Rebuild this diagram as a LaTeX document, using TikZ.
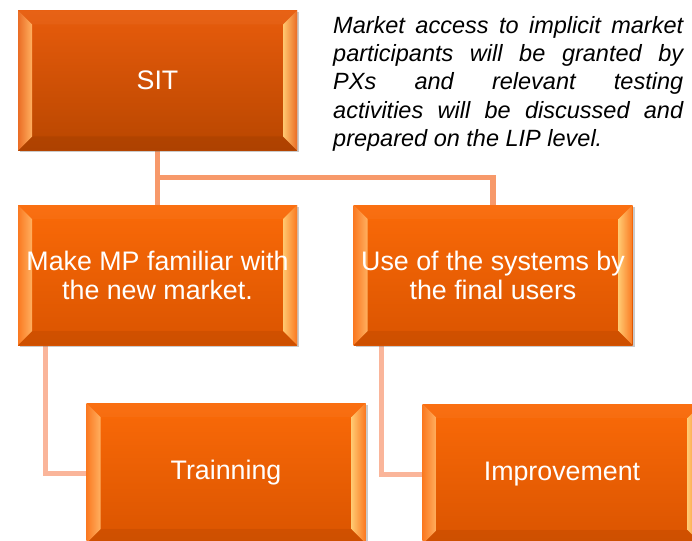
\documentclass[tikz,border=0pt]{standalone}
\usepackage{fontspec}
\setmainfont{Liberation Sans}
\usetikzlibrary{shadows,backgrounds}
\definecolor{sittop}{HTML}{E85C0C}
\definecolor{sitbot}{HTML}{B84600}
\definecolor{boxtop}{HTML}{FA6A08}
\definecolor{boxbot}{HTML}{DA5400}
\definecolor{bevlight}{HTML}{FFB060}
\definecolor{bevyellow}{HTML}{FFC870}
\definecolor{connA}{HTML}{F7996A}
\definecolor{connB}{HTML}{FAB59A}
\begin{document}
\begin{tikzpicture}[x=1pt,y=-1pt,
  bevelbox/.style 2 args={minimum width=279pt, minimum height=140pt, inner sep=0pt,
    text=white, align=center, font=\fontsize{26.8}{29}\selectfont,
    top color=#1, bottom color=#2,
    drop shadow={shadow xshift=2pt, shadow yshift=-2pt, opacity=0.35, fill=black!60},
    path picture={
      \coordinate (nw) at (path picture bounding box.north west);
      \coordinate (ne) at (path picture bounding box.north east);
      \coordinate (sw) at (path picture bounding box.south west);
      \coordinate (se) at (path picture bounding box.south east);
      \fill[white, opacity=0.04] (nw) -- (ne) -- ([xshift=-14pt,yshift=-14pt]ne) -- ([xshift=14pt,yshift=-14pt]nw) -- cycle;
      \fill[black, opacity=0.06] (sw) -- (se) -- ([xshift=-14pt,yshift=14pt]se) -- ([xshift=14pt,yshift=14pt]sw) -- cycle;
      \shade[left color=#1!90!white, right color=bevlight] (nw) -- ([xshift=14pt,yshift=-14pt]nw) -- ([xshift=14pt,yshift=14pt]sw) -- (sw) -- cycle;
      \shade[left color=bevyellow, right color=#1!90!white] (ne) -- ([xshift=-14pt,yshift=-14pt]ne) -- ([xshift=-14pt,yshift=14pt]se) -- (se) -- cycle;
    }},
  connup/.style={draw=connA, line width=5.5pt},
  connlow/.style={draw=connB, line width=5pt}
]
\useasboundingbox (0,0) rectangle (692,540);

\node[bevelbox={sittop}{sitbot}] (sit) at (157.5,80.5) {SIT};
\node[bevelbox={boxtop}{boxbot}] (mp) at (157.5,275) {Make MP familiar with\\the new market.};
\node[bevelbox={boxtop}{boxbot}] (use) at (493,275) {Use of the systems by\\the final users};
\node[bevelbox={boxtop}{boxbot}] (train) at (226,473) {Trainning};
\node[bevelbox={boxtop}{boxbot}] (impr) at (562,474) {Improvement};

\node[anchor=north west, inner sep=0pt, align=left,
      font=\fontsize{23.5}{28.3}\selectfont\itshape] (note) at (333,16)
  {\makebox[350pt][s]{Market access to implicit market}\\
   \makebox[350pt][s]{participants will be granted by}\\
   \makebox[350pt][s]{PXs and relevant testing}\\
   \makebox[350pt][s]{activities will be discussed and}\\
   prepared on the LIP level.};

\begin{scope}[on background layer]
  \coordinate (bus) at ([yshift=-27pt]sit.south);
  \draw[connup] (sit.south) -- (mp.north);
  \draw[connup] (bus) -| (use.north);
  \draw[connlow] ([xshift=-112.5pt]mp.south) |- (train.west);
  \draw[connlow] ([xshift=-112pt]use.south) |- (impr.west);
\end{scope}
\end{tikzpicture}
\end{document}
